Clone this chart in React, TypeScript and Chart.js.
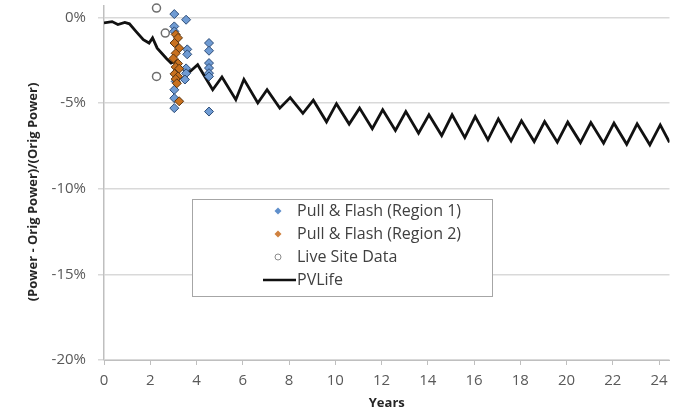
import React, { useEffect, useRef } from "react";
import { Chart, registerables } from "chart.js";

Chart.register(...registerables);

// PVLife simulated line (years, % change)
const lineYears = [0.0, 0.35, 0.6, 0.9, 1.1, 1.4, 1.7, 1.95, 2.1, 2.3, 2.7, 2.9, 3.1, 3.3, 3.65, 4.05, 4.7, 5.1, 5.7, 6.05, 6.65, 7.05, 7.6, 8.05, 8.6, 9.05, 9.62, 10.05, 10.6, 11.05, 11.6, 12.05, 12.6, 13.05, 13.6, 14.05, 14.6, 15.05, 15.6, 16.05, 16.6, 17.05, 17.6, 18.05, 18.6, 19.05, 19.6, 20.05, 20.6, 21.05, 21.6, 22.05, 22.6, 23.05, 23.6, 24.05, 24.45];
const lineValues = [-0.33, -0.25, -0.42, -0.3, -0.38, -0.85, -1.3, -1.5, -1.2, -1.8, -2.4, -2.67, -2.55, -2.9, -3.25, -2.77, -4.23, -3.48, -4.81, -3.62, -5.0, -4.23, -5.3, -4.68, -5.6, -4.84, -6.1, -5.04, -6.23, -5.3, -6.5, -5.4, -6.6, -5.5, -6.76, -5.69, -6.9, -5.69, -7.02, -5.79, -7.15, -5.93, -7.21, -6.04, -7.25, -6.08, -7.29, -6.12, -7.31, -6.14, -7.35, -6.18, -7.41, -6.22, -7.44, -6.28, -7.3];

// Pull & Flash (Region 1)
const region1Years = [3.04, 3.55, 3.04, 3.04, 3.6, 3.6, 3.55, 3.55, 3.5, 3.1, 3.04, 3.04, 3.04, 4.54, 4.54, 4.54, 4.54, 4.54, 4.54, 4.54];
const region1Values = [0.19, -0.14, -0.53, -0.82, -1.87, -2.16, -2.98, -3.27, -3.63, -3.74, -4.23, -4.72, -5.3, -1.5, -1.95, -2.67, -2.96, -3.26, -3.45, -5.5];

// Pull & Flash (Region 2)
const region2Years = [3.1, 3.2, 3.05, 3.25, 3.1, 3.0, 3.2, 3.1, 3.25, 3.05, 3.2, 3.1, 3.15, 3.25];
const region2Values = [-1.0, -1.2, -1.5, -1.8, -2.1, -2.4, -2.7, -2.9, -3.0, -3.3, -3.45, -3.6, -3.85, -4.9];

// Live Site Data
const liveYears = [2.27, 2.65, 2.27];
const liveValues = [0.54, -0.92, -3.45];

const yTicks = [-20, -15, -10, -5, 0];
const xTicks = [0, 2, 4, 6, 8, 10, 12, 14, 16, 18, 20, 22, 24];

const legendLabels = ["Pull & Flash (Region 1)", "Pull & Flash (Region 2)", "Live Site Data", "PVLife"];
const yTitle = "(Power - Orig Power)/(Orig Power)";
const xTitle = "Years";

const FONT = "'Open Sans', 'Noto Sans', sans-serif";

const toPts = (xs: number[], ys: number[]) => xs.map((x, i) => ({ x, y: ys[i] }));

const legendPlugin = {
  id: "boxLegend",
  afterDraw(chart: any) {
    const ctx = chart.ctx as CanvasRenderingContext2D;
    ctx.save();
    // y-axis title
    ctx.translate(33, 192);
    ctx.rotate(-Math.PI / 2);
    ctx.fillStyle = "#262626";
    ctx.font = `bold 13px ${FONT}`;
    ctx.textAlign = "center";
    ctx.textBaseline = "middle";
    ctx.fillText(yTitle, 0, 0);
    ctx.restore();

    ctx.save();
    const bx = 192.5, by = 199.5, bw = 300, bh = 97;
    ctx.fillStyle = "#ffffff";
    ctx.fillRect(bx, by, bw, bh);
    ctx.strokeStyle = "#a6a6a6";
    ctx.lineWidth = 1;
    ctx.strokeRect(bx, by, bw, bh);
    const rows = [211, 234, 257, 280];
    const mx = 278;
    const diamond = (y: number, fill: string) => {
      ctx.beginPath();
      ctx.moveTo(mx, y - 3.5);
      ctx.lineTo(mx + 3.5, y);
      ctx.lineTo(mx, y + 3.5);
      ctx.lineTo(mx - 3.5, y);
      ctx.closePath();
      ctx.fillStyle = fill;
      ctx.fill();
    };
    diamond(rows[0], "#5f8fcb");
    diamond(rows[1], "#d0813f");
    ctx.beginPath();
    ctx.arc(mx, rows[2], 3, 0, Math.PI * 2);
    ctx.strokeStyle = "#8c8c8c";
    ctx.lineWidth = 1;
    ctx.stroke();
    ctx.beginPath();
    ctx.moveTo(263, rows[3]);
    ctx.lineTo(296, rows[3]);
    ctx.strokeStyle = "#111";
    ctx.lineWidth = 2.5;
    ctx.stroke();
    ctx.fillStyle = "#404040";
    ctx.font = `16px ${FONT}`;
    ctx.textBaseline = "middle";
    ctx.textAlign = "left";
    legendLabels.forEach((t, i) => ctx.fillText(t, 297, rows[i]));
    ctx.restore();
  },
};

export default function App() {
  const ref = useRef<HTMLCanvasElement>(null);
  useEffect(() => {
    document.body.style.margin = "0";
    const chart = new Chart(ref.current as HTMLCanvasElement, {
      type: "scatter",
      data: {
        datasets: [
          {
            label: legendLabels[0],
            data: toPts(region1Years, region1Values),
            pointStyle: "rectRot",
            pointRadius: 4.5,
            backgroundColor: "#6f9bd3",
            borderColor: "#2e4d78",
            borderWidth: 1,
            order: 1,
            clip: false,
          },
          {
            label: legendLabels[1],
            data: toPts(region2Years, region2Values),
            pointStyle: "rectRot",
            pointRadius: 4.5,
            backgroundColor: "#c8711f",
            borderColor: "#5a3510",
            borderWidth: 1,
            order: 0,
            clip: false,
          },
          {
            label: legendLabels[2],
            data: toPts(liveYears, liveValues),
            pointStyle: "circle",
            pointRadius: 4,
            backgroundColor: "#ffffff",
            borderColor: "#6e6e6e",
            borderWidth: 1.5,
            order: 2,
            clip: false,
          },
          {
            type: "line",
            label: legendLabels[3],
            data: toPts(lineYears, lineValues),
            showLine: true,
            borderColor: "#111111",
            borderWidth: 2.8,
            pointRadius: 0,
            tension: 0,
            fill: false,
            order: 10,
          } as any,
        ],
      },
      options: {
        animation: false,
        responsive: false,
        devicePixelRatio: 1,
        layout: { padding: { top: 0, right: 0, bottom: 0, left: 0 } },
        plugins: {
          legend: { display: false },
          tooltip: { enabled: false },
        },
        scales: {
          x: {
            type: "linear",
            min: 0,
            max: 24.45,
            afterBuildTicks: (s: any) => {
              s.ticks = xTicks.map((v) => ({ value: v }));
            },
            afterFit: (s: any) => {
              s.height = 51;
              s.paddingLeft = 0;
              s.paddingRight = 0;
              s.paddingTop = 0;
              s.paddingBottom = 0;
            },
            ticks: {
              color: "#595959",
              font: { family: FONT, size: 15 },
              padding: 7,
              maxRotation: 0,
              autoSkip: false,
            },
            grid: {
              drawOnChartArea: false,
              drawTicks: true,
              tickLength: 5,
              color: "#bfbfbf",
            },
            border: { color: "#bfbfbf", width: 1 },
            title: {
              display: true,
              text: xTitle,
              color: "#262626",
              font: { family: FONT, size: 13, weight: "bold" },
              padding: { top: 0, bottom: 0 },
            },
          },
          y: {
            type: "linear",
            min: -20,
            max: 0.69,
            afterBuildTicks: (s: any) => {
              s.ticks = yTicks.map((v) => ({ value: v }));
            },
            afterFit: (s: any) => {
              s.width = 104;
              s.paddingTop = 0;
              s.paddingBottom = 0;
              s.paddingLeft = 0;
              s.paddingRight = 0;
            },
            ticks: {
              color: "#595959",
              font: { family: FONT, size: 15 },
              padding: 12,
              callback: (v: any) => `${v}%`,
            },
            grid: {
              color: "#d9d9d9",
              tickLength: 6,
              lineWidth: 1.5,
            },
            border: { color: "#bfbfbf", width: 1.5 },
            title: { display: false },
          },
        },
      },
      plugins: [legendPlugin],
    } as any);
    return () => chart.destroy();
  }, []);
  return (
    <div style={{ position: "absolute", left: 0, top: 0, width: 675, height: 411, background: "#fff" }}>
      <canvas ref={ref} width={675} height={411} />
    </div>
  );
}
